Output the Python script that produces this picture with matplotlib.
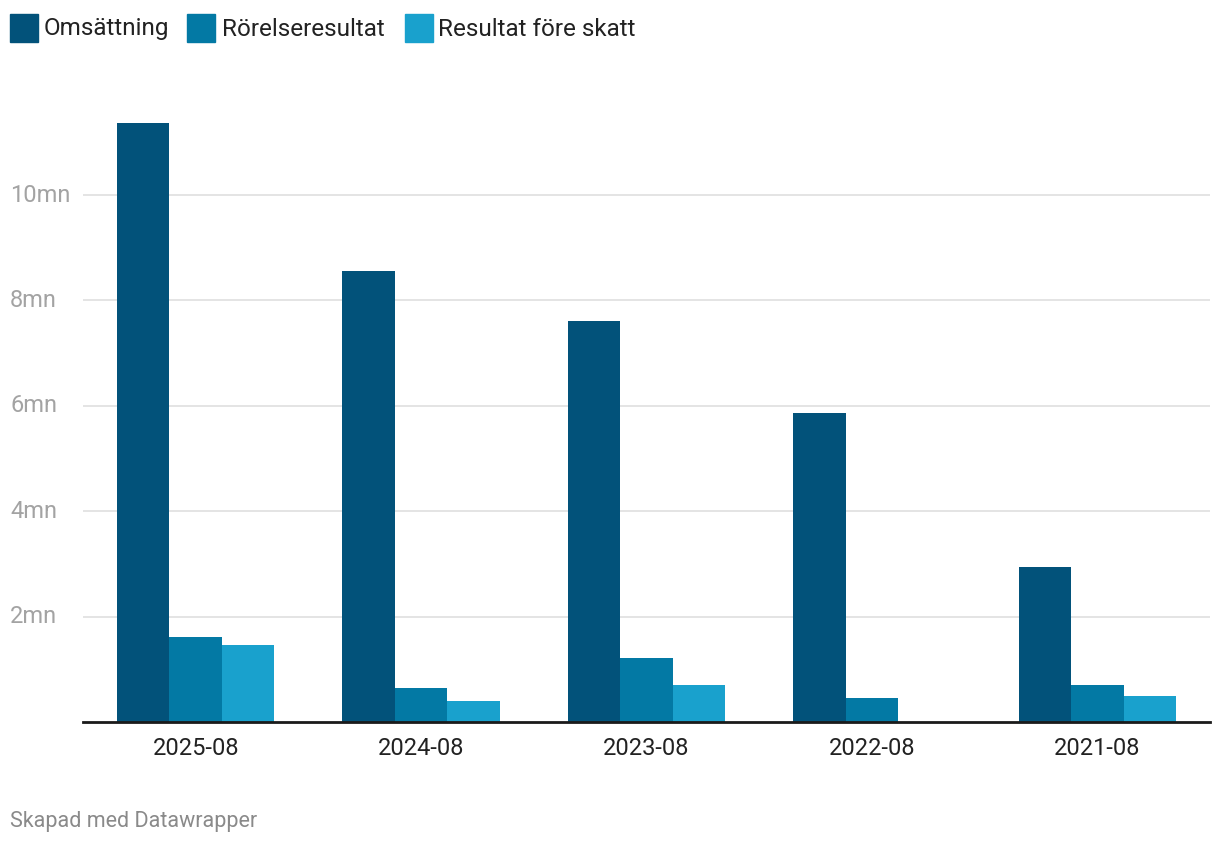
import numpy as np
import matplotlib.pyplot as plt
from matplotlib.patches import Rectangle

plt.rcParams['font.family'] = ['Roboto', 'DejaVu Sans']

periods = ['2025-08', '2024-08', '2023-08', '2022-08', '2021-08']
omsattning = [11.37, 8.56, 7.61, 5.86, 2.94]
rorelseresultat = [1.61, 0.645, 1.21, 0.455, 0.70]
resultat_fore_skatt = [1.46, 0.40, 0.70, 0.0, 0.49]
series_names = ['Omsättning', 'Rörelseresultat', 'Resultat före skatt']
colors = ['#02527a', '#0379a4', '#19a1cd']
yticks = [2, 4, 6, 8, 10]

W, H = 1220, 844
fig = plt.figure(figsize=(W / 100, H / 100), dpi=100)
ax = fig.add_axes([83 / W, (H - 722) / H, (1210 - 83) / W, (722 - 89.6) / H])

x = np.arange(len(periods))
bw = 0.233
for i, vals in enumerate([omsattning, rorelseresultat, resultat_fore_skatt]):
    ax.bar(x + (i - 1) * bw, vals, width=bw, color=colors[i], zorder=2)

ax.set_xlim(-0.5, len(periods) - 0.5)
ax.set_ylim(0, 12)
ax.set_yticks(yticks)
ax.yaxis.grid(True, color='#e2e2e2', linewidth=1.3, zorder=0)
ax.tick_params(axis='y', length=0, labelleft=False)
for t in yticks:
    fig.text(10 / W, ax.transData.transform((0, t))[1] / H, f'{t}mn', fontsize=17,
             color='#a3a3a3', va='center', ha='left')

ax.set_xticks(x)
ax.set_xticklabels(periods, fontsize=17, color='#222222')
ax.tick_params(axis='x', length=0, pad=11)
for s in ['top', 'right', 'left']:
    ax.spines[s].set_visible(False)
ax.spines['bottom'].set_color('#1a1a1a')
ax.spines['bottom'].set_linewidth(2)
ax.spines['bottom'].set_zorder(3)

# legend
sq_x = [10, 187, 405]
txt_x = [44, 222, 438]
for name, c, sx, tx in zip(series_names, colors, sq_x, txt_x):
    fig.patches.append(Rectangle((sx / W, (H - 42) / H), 28 / W, 28 / H,
                                 transform=fig.transFigure, color=c))
    fig.text(tx / W, (H - 29) / H, name, fontsize=17.5, color='#222222',
             va='center', ha='left')

fig.text(10 / W, (H - 821) / H, 'Skapad med Datawrapper', fontsize=15.5,
         color='#8a8a8a', va='center', ha='left')

fig.savefig('out.png', dpi=100, facecolor='white')
